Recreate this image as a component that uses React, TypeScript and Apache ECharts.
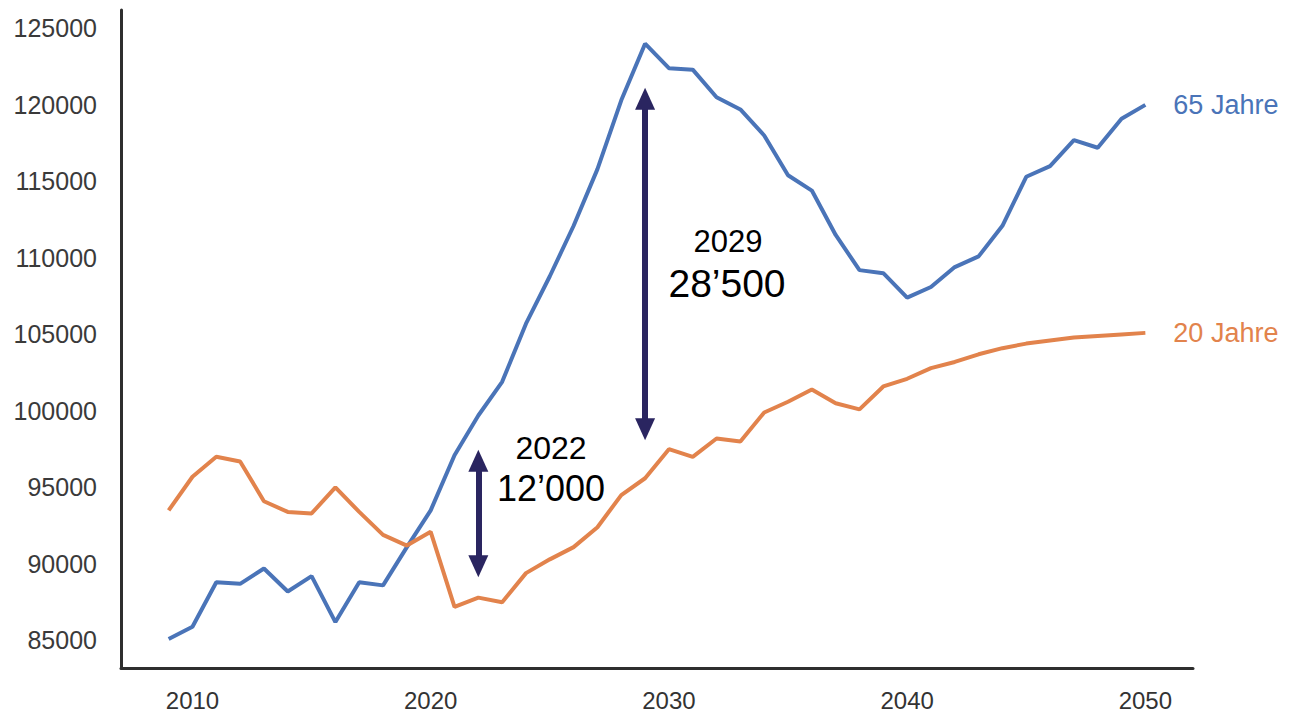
import React, { useEffect, useRef } from "react";
import * as echarts from "echarts";

const years = [
  2009, 2010, 2011, 2012, 2013, 2014, 2015, 2016, 2017, 2018, 2019, 2020, 2021, 2022,
  2023, 2024, 2025, 2026, 2027, 2028, 2029, 2030, 2031, 2032, 2033, 2034, 2035, 2036,
  2037, 2038, 2039, 2040, 2041, 2042, 2043, 2044, 2045, 2046, 2047, 2048, 2049, 2050,
];

const age65 = [
  85100, 85900, 88800, 88700, 89700, 88200, 89200, 86200, 88800, 88600, 91100, 93500,
  97100, 99700, 101900, 105700, 108800, 112100, 115800, 120300, 124000, 122400, 122300,
  120500, 119700, 118000, 115400, 114400, 111500, 109200, 109000, 107400, 108100, 109400,
  110100, 112100, 115300, 116000, 117700, 117200, 119100, 120000,
];

const age20 = [
  93500, 95700, 97000, 96700, 94100, 93400, 93300, 95000, 93400, 91900, 91200, 92100,
  87200, 87800, 87500, 89400, 90300, 91100, 92400, 94500, 95600, 97500, 97000, 98200,
  98000, 99900, 100600, 101400, 100500, 100100, 101600, 102100, 102800, 103200, 103700,
  104100, 104400, 104600, 104800, 104900, 105000, 105100,
];

const xTicks = [2010, 2020, 2030, 2040, 2050];
const yTicks = [85000, 90000, 95000, 100000, 105000, 110000, 115000, 120000, 125000];

// gap arrows: [year, top value, bottom value]
const gapArrows = [
  [2022, 96750, 89850],
  [2029, 120400, 98800],
];
const gapYears = ["2022", "2029"];
const gapValues = ["12’000", "28’500"];

const FONT = "'Liberation Sans', Arial, Helvetica, sans-serif";
const BLUE = "#4a74b8";
const ORANGE = "#e2834c";
const NAVY = "#2a2560";

export default function App() {
  const ref = useRef<HTMLDivElement>(null);

  useEffect(() => {
    if (!ref.current) return;
    const chart = echarts.init(ref.current, undefined, { renderer: "svg" });

    const option = {
      animation: false,
      backgroundColor: "#ffffff",
      grid: { left: 121, right: 99, top: 10, bottom: 46, containLabel: false },
      xAxis: {
        type: "value",
        min: 2007,
        max: 2052,
        axisLine: { show: true, lineStyle: { color: "#2e2e2e", width: 3 } },
        axisTick: { show: false },
        splitLine: { show: false },
        axisLabel: {
          customValues: xTicks,
          formatter: (v: number) => String(v),
          color: "#333333",
          fontSize: 24,
          fontFamily: FONT,
          margin: 20,
        },
      },
      yAxis: {
        type: "value",
        min: 83200,
        max: 126200,
        axisLine: { show: true, lineStyle: { color: "#2e2e2e", width: 3 } },
        axisTick: { show: false },
        splitLine: { show: false },
        axisLabel: {
          customValues: yTicks,
          formatter: (v: number) => String(v),
          color: "#3a3a3a",
          fontSize: 25,
          fontFamily: FONT,
          margin: 24,
        },
      },
      series: [
        {
          type: "line",
          name: "65 Jahre",
          data: years.map((y, i) => [y, age65[i]]),
          showSymbol: false,
          silent: true,
          lineStyle: { color: BLUE, width: 4 },
          itemStyle: { color: BLUE },
          endLabel: {
            show: true,
            formatter: "65 Jahre",
            color: BLUE,
            fontSize: 27,
            fontFamily: FONT,
            distance: 28,
          },
          markLine: {
            silent: true,
            symbol: ["triangle", "triangle"],
            symbolSize: [20, 22],
            label: { show: false },
            lineStyle: { color: NAVY, width: 6, type: "solid" },
            emphasis: { disabled: true },
            data: gapArrows.map((a) => [
              { coord: [a[0], a[1]] },
              { coord: [a[0], a[2]] },
            ]),
          },
        },
        {
          type: "line",
          name: "20 Jahre",
          data: years.map((y, i) => [y, age20[i]]),
          showSymbol: false,
          silent: true,
          lineStyle: { color: ORANGE, width: 4 },
          itemStyle: { color: ORANGE },
          endLabel: {
            show: true,
            formatter: "20 Jahre",
            color: ORANGE,
            fontSize: 27,
            fontFamily: FONT,
            distance: 28,
          },
        },
      ],
      graphic: [
        {
          type: "text",
          x: 551,
          y: 448,
          style: {
            text: gapYears[0],
            fill: "#000",
            font: `32px ${FONT}`,
            align: "center",
            verticalAlign: "middle",
          },
        },
        {
          type: "text",
          x: 551,
          y: 488,
          style: {
            text: gapValues[0],
            fill: "#000",
            font: `36px ${FONT}`,
            align: "center",
            verticalAlign: "middle",
          },
        },
        {
          type: "text",
          x: 728,
          y: 241,
          style: {
            text: gapYears[1],
            fill: "#000",
            font: `31px ${FONT}`,
            align: "center",
            verticalAlign: "middle",
          },
        },
        {
          type: "text",
          x: 727,
          y: 283,
          style: {
            text: gapValues[1],
            fill: "#000",
            font: `39px ${FONT}`,
            align: "center",
            verticalAlign: "middle",
          },
        },
      ],
    };

    chart.setOption(option as any);
    return () => chart.dispose();
  }, []);

  return (
    <div
      ref={ref}
      style={{ position: "fixed", left: 0, top: 0, width: 1292, height: 714, background: "#fff" }}
    />
  );
}
